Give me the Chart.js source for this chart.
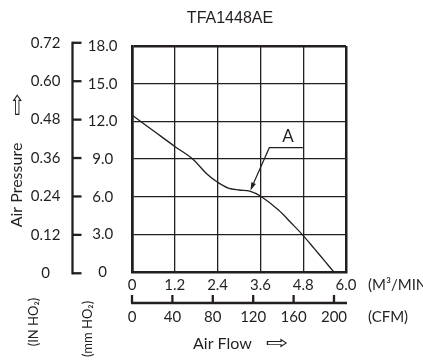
<!DOCTYPE html>
<html>
<head>
<meta charset="utf-8">
<title>TFA1448AE</title>
<script src="https://cdn.jsdelivr.net/npm/chart.js@4"></script>
<style>
  html, body { margin: 0; padding: 0; background: #fff; }
  #pq { display: block; }
</style>
</head>
<body>
<canvas id="pq" width="423" height="361"></canvas>
<script>
// TFA1448AE fan: static pressure vs. air flow (P-Q curve)

const MODEL = "TFA1448AE";
const M3MIN_PER_CFM = 0.0283168;

// air flow in m3/min, static pressure in mm H2O
const flow     = [0, 0.6, 1.2, 1.7, 2.1, 2.4, 2.7, 3.0, 3.3, 3.6, 4.1, 4.5, 4.8, 5.1, 5.4, 5.66];
const pressure = [12.5, 11.25, 10.0, 9.0, 7.8, 7.15, 6.68, 6.53, 6.45, 6.05, 4.95, 3.8, 2.9, 1.9, 0.88, 0];

const flowTicks  = [0, 1.2, 2.4, 3.6, 4.8, 6.0];
const flowLabels = ["0", "1.2", "2.4", "3.6", "4.8", "6.0"];
const cfmTicks   = [0, 40, 80, 120, 160, 200];
const cfmLabels  = ["0", "40", "80", "120", "160", "200"];
const mmTicks    = [0, 3, 6, 9, 12, 15, 18];
const mmLabels   = ["0", "3.0", "6.0", "9.0", "12.0", "15.0", "18.0"];
const inchTicks  = [0, 0.12, 0.24, 0.36, 0.48, 0.60, 0.72];
const inchLabels = ["0", "0.12", "0.24", "0.36", "0.48", "0.60", "0.72"];

// operating point "A" leader: arrow tip, elbow, end (flow, mm H2O)
const pointA = { text: "A", tip: [3.32, 6.5], elbow: [3.85, 9.9], end: [4.79, 9.9] };

const INK = "#231f20";
const FONT = "Lato, 'DejaVu Sans', sans-serif";
const tickFont = { family: FONT, size: 15 };

function fixedTicks(values) {
  return (scale) => { scale.ticks = values.map(v => ({ value: v })); };
}

function rotatedText(ctx, text, cx, cy) {
  ctx.save();
  ctx.translate(cx, cy);
  ctx.rotate(-Math.PI / 2);
  ctx.fillText(text, 0, 0);
  ctx.restore();
}

// outlined arrow glyph, stretched to the flat shape used on the sheet
function arrowGlyph(ctx, glyph, cx, cy, sx, sy) {
  ctx.save();
  ctx.translate(cx, cy);
  ctx.scale(sx, sy);
  ctx.fillText(glyph, 0, 0);
  ctx.restore();
}

// brackets, unit captions, axis names and the "A" leader
const extras = {
  id: "extras",
  afterDraw(chart) {
    const { ctx } = chart;
    const { x, y, cfm, inch } = chart.scales;
    ctx.save();
    ctx.fillStyle = INK;
    ctx.strokeStyle = INK;
    ctx.textAlign = "center";
    ctx.textBaseline = "middle";

    ctx.font = "16px 'Liberation Sans', Arial, sans-serif";
    ctx.fillText(MODEL, 230, 19);

    // inch H2O bracket
    ctx.lineWidth = 2.3;
    const bx = inch.right + 0.5;
    const bTop = inch.getPixelForValue(inchTicks[inchTicks.length - 1]);
    const bBot = inch.getPixelForValue(inchTicks[0]);
    ctx.beginPath();
    ctx.moveTo(bx, bTop - 1.1);
    ctx.lineTo(bx, bBot + 1.1);
    ctx.stroke();
    inchTicks.forEach(v => {
      const py = inch.getPixelForValue(v);
      ctx.beginPath();
      ctx.moveTo(bx, py);
      ctx.lineTo(bx + 9, py);
      ctx.stroke();
    });

    // CFM bracket
    const cy = cfm.top - 1;
    ctx.beginPath();
    ctx.moveTo(x.left - 1, cy);
    ctx.lineTo(x.right + 1, cy);
    ctx.stroke();
    cfmTicks.forEach(v => {
      const px = cfm.getPixelForValue(v);
      ctx.beginPath();
      ctx.moveTo(px, cy);
      ctx.lineTo(px, cy - 8);
      ctx.stroke();
    });

    // unit captions
    ctx.font = "15px " + FONT;
    ctx.textAlign = "left";
    ctx.fillText("(M³/MIN)", 368, 285);
    ctx.fillText("(CFM)", 368, 317);

    ctx.font = "16px " + FONT;
    ctx.fillText("Air Flow", 193, 344);
    ctx.textAlign = "center";
    ctx.font = "22px 'DejaVu Sans', sans-serif";
    arrowGlyph(ctx, "⇨", 277, 344, 1.25, 0.85);
    arrowGlyph(ctx, "⇧", 17, 108, 0.85, 1.25);

    ctx.font = "16px " + FONT;
    rotatedText(ctx, "Air Pressure", 17, 185);
    ctx.font = "13px " + FONT;
    rotatedText(ctx, "(IN HO₂)", 33.5, 322);
    rotatedText(ctx, "(mm HO₂)", 87.5, 329);

    // leader to operating point A
    const tip = [x.getPixelForValue(pointA.tip[0]), y.getPixelForValue(pointA.tip[1])];
    const elb = [x.getPixelForValue(pointA.elbow[0]), y.getPixelForValue(pointA.elbow[1])];
    const end = [x.getPixelForValue(pointA.end[0]), y.getPixelForValue(pointA.end[1])];
    const ang = Math.atan2(tip[1] - elb[1], tip[0] - elb[0]);
    const head = 8, half = 2.4;
    const base = [tip[0] - head * Math.cos(ang), tip[1] - head * Math.sin(ang)];
    ctx.lineWidth = 1.2;
    ctx.beginPath();
    ctx.moveTo(end[0], end[1]);
    ctx.lineTo(elb[0], elb[1]);
    ctx.lineTo(base[0], base[1]);
    ctx.stroke();
    ctx.beginPath();
    ctx.moveTo(tip[0], tip[1]);
    ctx.lineTo(base[0] + half * Math.sin(ang), base[1] - half * Math.cos(ang));
    ctx.lineTo(base[0] - half * Math.sin(ang), base[1] + half * Math.cos(ang));
    ctx.closePath();
    ctx.fill();
    ctx.font = "17px " + FONT;
    ctx.fillText(pointA.text, (elb[0] + end[0]) / 2 + 2, elb[1] - 11);

    ctx.restore();
  }
};

new Chart(document.getElementById("pq"), {
  type: "line",
  data: {
    datasets: [{
      data: flow.map((f, i) => ({ x: f, y: pressure[i] })),
      borderColor: INK,
      borderWidth: 1.3,
      pointRadius: 0,
      fill: false,
      tension: 0.35
    }]
  },
  options: {
    responsive: false,
    animation: false,
    events: [],
    layout: { padding: { top: 46, right: 77, bottom: 32, left: 0 } },
    plugins: { legend: { display: false }, tooltip: { enabled: false }, title: { display: false } },
    scales: {
      x: {
        type: "linear", position: "bottom", min: 0, max: 6,
        afterBuildTicks: fixedTicks(flowTicks),
        afterFit: (s) => { s.height = 32; },
        ticks: { callback: (v, i) => flowLabels[i], padding: 4, color: INK, font: tickFont, maxRotation: 0, autoSkip: false },
        grid: { color: INK, lineWidth: (c) => (c.index === 0 || c.index === flowTicks.length - 1) ? 2.5 : 1.3, drawTicks: false },
        border: { color: INK, width: 2.5 }
      },
      cfm: {
        type: "linear", position: "bottom", weight: 1, min: 0, max: 6 / M3MIN_PER_CFM,
        afterBuildTicks: fixedTicks(cfmTicks),
        afterFit: (s) => { s.height = 25; },
        ticks: { callback: (v, i) => cfmLabels[i], padding: 4.5, color: INK, font: tickFont, maxRotation: 0, autoSkip: false },
        grid: { display: false, drawTicks: false },
        border: { display: false }
      },
      y: {
        type: "linear", position: "left", min: 0, max: 18,
        afterBuildTicks: fixedTicks(mmTicks),
        afterFit: (s) => { s.width = 60; },
        ticks: { callback: (v, i) => mmLabels[i], padding: 14.5, crossAlign: "center", color: INK, font: tickFont, autoSkip: false },
        grid: { color: INK, lineWidth: (c) => c.index === mmTicks.length - 1 ? 2.5 : 1.3, drawTicks: false },
        border: { color: INK, width: 2.5 }
      },
      inch: {
        type: "linear", position: "left", weight: 1, min: 0.004, max: 0.71,
        afterBuildTicks: fixedTicks(inchTicks),
        afterFit: (s) => { s.width = 72; },
        ticks: { callback: (v, i) => inchLabels[i], padding: 11.5, crossAlign: "center", color: INK, font: tickFont, autoSkip: false },
        grid: { display: false, drawTicks: false },
        border: { display: false }
      }
    }
  },
  plugins: [extras]
});
</script>
</body>
</html>
